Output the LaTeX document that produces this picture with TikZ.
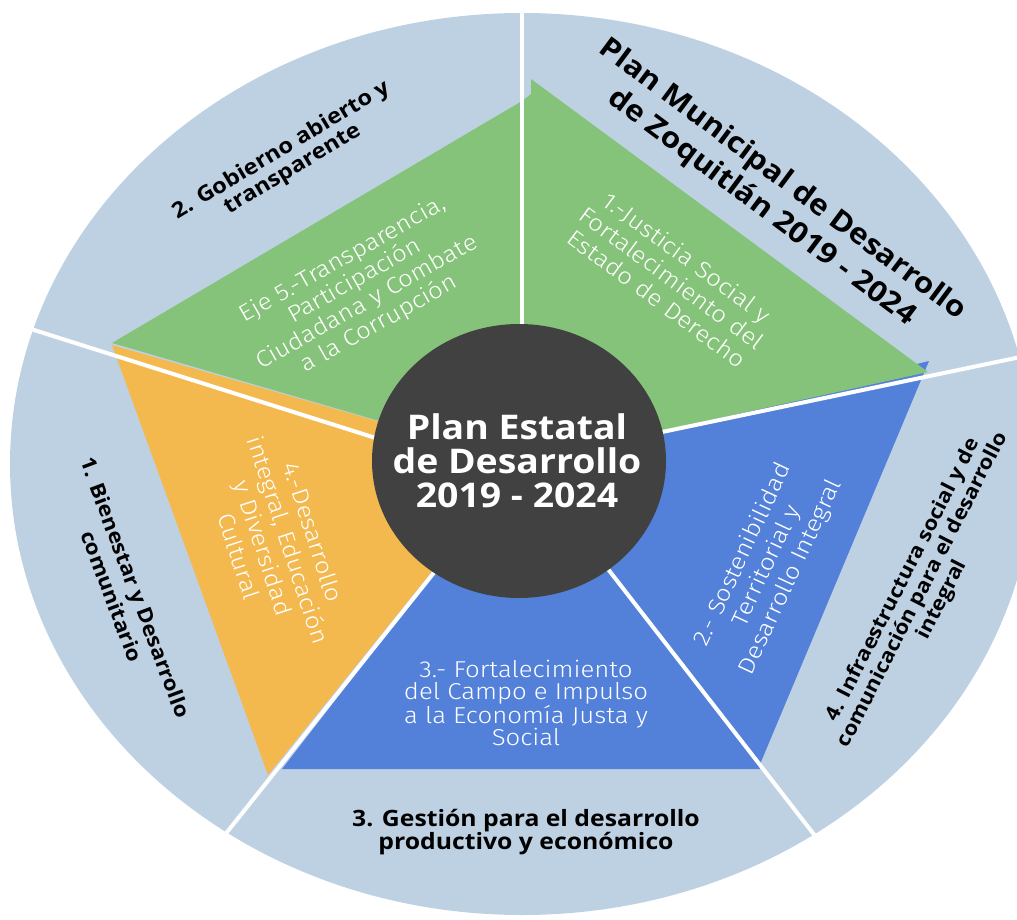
\documentclass[tikz,border=0pt]{standalone}
\usepackage{fontspec}
\setmainfont{Open Sans}
\newfontfamily\boldf{Open Sans}[FakeStretch=1.1]
\newfontfamily\lightf{Fira Sans Light}[FakeStretch=1.12]
\definecolor{outerblue}{HTML}{BED1E3}
\definecolor{segblue}{HTML}{5381D9}
\definecolor{seggreen}{HTML}{86C37A}
\definecolor{segorange}{HTML}{F3B94F}
\definecolor{hub}{HTML}{414141}
\tikzset{
  sep/.style={draw=white, line width=4pt},
  outerlbl/.style={text=black, align=center},
  innerlbl/.style={text=white, align=center},
}
\begin{document}
\begin{tikzpicture}[x=1pt,y=-1pt]
\useasboundingbox (0,0) rectangle (1017,920);
\begin{scope}
\clip (0,0) rectangle (1017,920);
\fill[outerblue] (522,464) ellipse [x radius=512, y radius=451];
% blue segments
\fill[segblue] (520,462) -- (929,361) -- (758,769) -- cycle;
\fill[segblue] (520,462) -- (282,769) -- (761,769) -- cycle;
% green
\fill[seggreen] (112,343) -- (522,101) -- (531,94) -- (531,79) -- (928,372) -- (520,462) -- cycle;
% orange
\fill[segorange] (112,345) -- (268,775) -- (520,462) -- cycle;
% separators
\draw[sep] (522,0) -- (522,380);
\draw[sep] (15,324) -- (420,452);
\draw[sep] (1030,355) -- (600,445);
\draw[sep] (200,866) -- (460,540);
\draw[sep] (840,868) -- (580,533);
\fill[hub] (519,461) ellipse [x radius=147, y radius=137];
\end{scope}
% center
\node[innerlbl, font=\boldf\bfseries\fontsize{34}{34}\selectfont] (center) at (517,461) {Plan Estatal\\de Desarrollo\\2019 - 2024};
% inner labels
\node[innerlbl, rotate=29.5, font=\lightf\fontsize{23}{24.6}\selectfont] (eje5) at (361,292) {Eje 5.-Transparencia,\\Participación\\Ciudadana y Combate\\a la Corrupción};
\node[innerlbl, rotate=-36.5, font=\lightf\fontsize{23}{25.5}\selectfont] (eje1) at (672,278) {1.-Justicia Social y\\Fortalecimiento del\\Estado de Derecho};
\node[innerlbl, rotate=-72, font=\lightf\fontsize{23}{26}\selectfont] (eje4) at (276,544) {4.-Desarrollo\\integral, Educación\\y Diversidad\\Cultural};
\node[innerlbl, rotate=65, font=\lightf\fontsize{23}{26.5}\selectfont] (eje2) at (767,566) {2.- Sostenibilidad\\Territorial y\\Desarrollo Integral};
\node[innerlbl, font=\lightf\fontsize{23}{22.4}\selectfont] (eje3) at (526,703) {3.- Fortalecimiento\\del Campo e Impulso\\a la Economía Justa y\\Social};
% outer labels
\node[outerlbl, rotate=31, font=\boldf\bfseries\fontsize{21.5}{22}\selectfont] (m2) at (287,160) {2. Gobierno abierto y\\transparente};
\node[outerlbl, rotate=-36.7, font=\boldf\bfseries\fontsize{28.6}{35}\selectfont] (pm) at (772,194) {Plan Municipal de Desarrollo\\de Zoquitlán 2019 - 2024};
\node[outerlbl, rotate=-69.5, font=\boldf\bfseries\fontsize{20.5}{25}\selectfont] (m1) at (124,592) {1. Bienestar y Desarrollo\\comunitario};
\node[outerlbl, rotate=63, font=\boldf\bfseries\fontsize{20}{21.7}\selectfont] (m4) at (923,590) {4. Infraestructura social y de\\comunicación para el desarrollo\\integral};
\node[outerlbl, font=\boldf\bfseries\fontsize{22.5}{22}\selectfont] (m3) at (526,832) {3. Gestión para el desarrollo\\productivo y económico};
\end{tikzpicture}
\end{document}
